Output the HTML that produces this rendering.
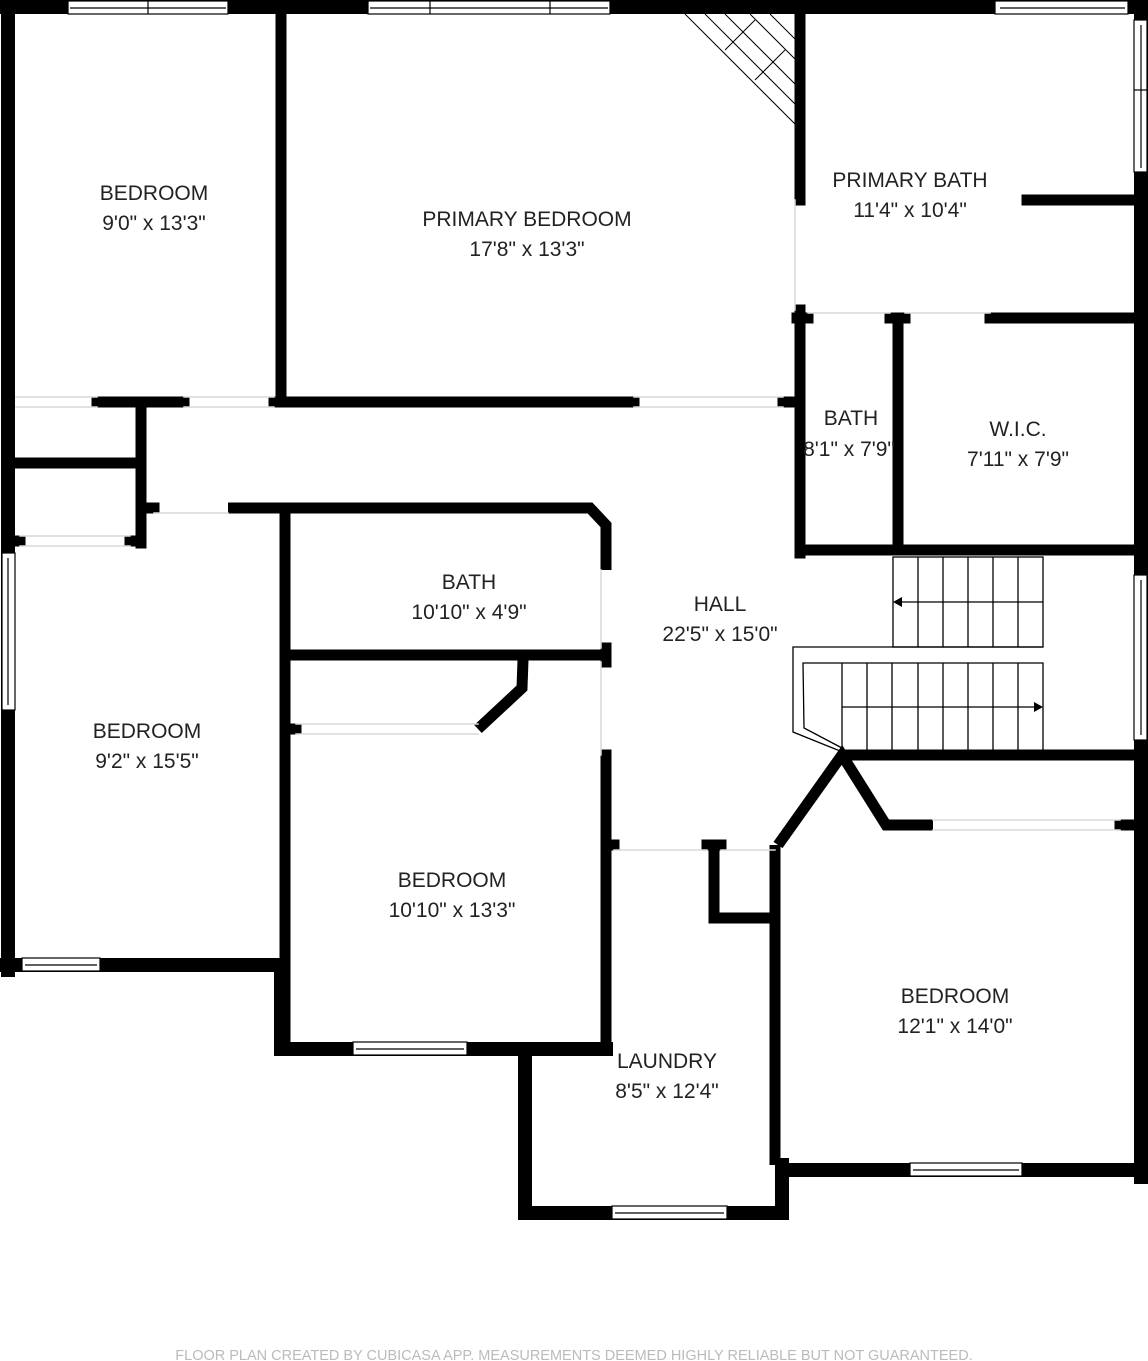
<!DOCTYPE html>
<html><head><style>
html,body{margin:0;padding:0;background:#fff;}
svg{display:block}
text{font-family:"Liberation Sans",sans-serif;fill:#222;text-anchor:middle}
.l{font-size:21px}
</style></head><body>
<svg width="1148" height="1361" viewBox="0 0 1148 1361">
<g stroke="#000" stroke-linecap="square" fill="none">
<g stroke-width="14">
<line x1="2" y1="7" x2="1141" y2="7"/>
<line x1="8" y1="0" x2="8" y2="970"/>
<line x1="1141" y1="0" x2="1141" y2="1177"/>
<line x1="2" y1="965" x2="281" y2="965"/>
<line x1="281" y1="965" x2="281" y2="1049"/>
<line x1="281" y1="1049" x2="606" y2="1049"/>
<line x1="525" y1="1052" x2="525" y2="1213"/>
<line x1="525" y1="1213" x2="782" y2="1213"/>
<line x1="782" y1="1165" x2="782" y2="1213"/>
<line x1="782" y1="1170" x2="1141" y2="1170"/>
</g>
<g stroke-width="11">
<line x1="281" y1="14" x2="281" y2="402"/>
<line x1="97" y1="402" x2="184" y2="402"/>
<line x1="274" y1="402" x2="634" y2="402"/>
<line x1="783" y1="402" x2="798" y2="402"/>
<line x1="141" y1="402" x2="141" y2="543"/>
<line x1="14" y1="463" x2="141" y2="463"/>
<line x1="14" y1="541" x2="20" y2="541"/>
<line x1="130" y1="541" x2="141" y2="541"/>
<line x1="146" y1="508" x2="154" y2="508"/>
<polyline points="228,508 590,508 606,525 606,570" stroke-linecap="butt"/>
<line x1="606" y1="648" x2="606" y2="662"/>
<line x1="606" y1="755" x2="606" y2="1045"/>
<line x1="285" y1="508" x2="285" y2="1045"/>
<line x1="290" y1="655" x2="606" y2="655"/>
<polyline points="523,660 522,688 478,729" stroke-linecap="butt"/>
<line x1="292" y1="729" x2="296" y2="729"/>
<line x1="606" y1="845" x2="614" y2="845"/>
<line x1="707" y1="845" x2="721" y2="845"/>
<polyline points="714,845 714,918 778,918" stroke-linecap="butt"/>
<polyline points="775,845 775,1165" stroke-linecap="butt"/>
<polyline points="778,845 842,755 886,825 933,825" stroke-linecap="butt"/>
<line x1="1120" y1="825" x2="1138" y2="825"/>
<line x1="845" y1="755" x2="1138" y2="755"/>
<line x1="800" y1="14" x2="800" y2="200"/>
<line x1="800" y1="310" x2="800" y2="553"/>
<line x1="797" y1="318" x2="808" y2="318"/>
<line x1="890" y1="318" x2="905" y2="318"/>
<line x1="990" y1="318" x2="1138" y2="318"/>
<line x1="898" y1="318" x2="898" y2="548"/>
<line x1="800" y1="550" x2="1138" y2="550"/>
<line x1="1027" y1="200" x2="1138" y2="200"/>
</g>
<g stroke="#d8d8d8" stroke-width="1.5">
<line x1="16" y1="397" x2="97" y2="397"/><line x1="16" y1="407" x2="97" y2="407"/>
<line x1="184" y1="397" x2="274" y2="397"/><line x1="184" y1="407" x2="274" y2="407"/>
<line x1="634" y1="397" x2="783" y2="397"/><line x1="634" y1="407" x2="783" y2="407"/>
<line x1="20" y1="536" x2="130" y2="536"/><line x1="20" y1="546" x2="130" y2="546"/>
<line x1="154" y1="513" x2="228" y2="513"/>
<line x1="296" y1="724" x2="478" y2="724"/><line x1="296" y1="734" x2="478" y2="734"/>
<line x1="601" y1="570" x2="601" y2="648"/><line x1="601" y1="662" x2="601" y2="755"/>
<line x1="614" y1="850" x2="707" y2="850"/><line x1="721" y1="850" x2="775" y2="850"/>
<line x1="933" y1="820" x2="1120" y2="820"/><line x1="933" y1="830" x2="1120" y2="830"/>
<line x1="795" y1="200" x2="795" y2="310"/>
<line x1="808" y1="313" x2="890" y2="313"/><line x1="905" y1="313" x2="990" y2="313"/>
</g>
</g>
<g fill="#fff" stroke="#000" stroke-width="1.2">
<rect x="68" y="1" width="160" height="13"/><line x1="70" y1="8" x2="226" y2="8"/><line x1="148" y1="1" x2="148" y2="14"/>
<rect x="368" y="1" width="242" height="13"/><line x1="370" y1="8" x2="608" y2="8"/><line x1="430" y1="1" x2="430" y2="14"/><line x1="550" y1="1" x2="550" y2="14"/>
<rect x="995" y="1" width="133" height="13"/><line x1="1000" y1="8" x2="1125" y2="8"/>
<rect x="1134" y="20" width="13" height="152"/><line x1="1141" y1="25" x2="1141" y2="168"/><line x1="1134" y1="90" x2="1147" y2="90"/>
<rect x="1134" y="575" width="13" height="165"/><line x1="1141" y1="580" x2="1141" y2="735"/>
<rect x="2" y="553" width="13" height="157"/><line x1="8" y1="558" x2="8" y2="705"/>
<rect x="22" y="958" width="78" height="13"/><line x1="25" y1="965" x2="97" y2="965"/>
<rect x="353" y="1042" width="114" height="13"/><line x1="356" y1="1049" x2="464" y2="1049"/>
<rect x="612" y="1206" width="115" height="13"/><line x1="615" y1="1213" x2="724" y2="1213"/>
<rect x="910" y="1163" width="112" height="13"/><line x1="913" y1="1170" x2="1019" y2="1170"/>
</g>
<g stroke="#000" stroke-width="1" fill="none">
<line x1="685" y1="14" x2="795" y2="124"/>
<line x1="705" y1="14" x2="795" y2="104"/>
<line x1="725" y1="14" x2="795" y2="84"/>
<line x1="750" y1="14" x2="795" y2="59"/>
<line x1="770" y1="14" x2="795" y2="39"/>
<line x1="725" y1="50" x2="755" y2="20"/>
<line x1="755" y1="80" x2="785" y2="50"/>
</g>
<g stroke="#000" stroke-width="1.3" fill="none">
<rect x="893" y="557" width="150" height="90"/>
<line x1="918" y1="557" x2="918" y2="647"/><line x1="943" y1="557" x2="943" y2="647"/><line x1="968" y1="557" x2="968" y2="647"/><line x1="993" y1="557" x2="993" y2="647"/><line x1="1018" y1="557" x2="1018" y2="647"/>
<line x1="900" y1="602" x2="1043" y2="602"/>
<polyline points="1043,647 793,647 793,732 840,751 1043,751 1043,663 803,663 804,728 842,748"/>
<line x1="842" y1="663" x2="842" y2="751"/><line x1="867" y1="663" x2="867" y2="751"/><line x1="892" y1="663" x2="892" y2="751"/><line x1="918" y1="663" x2="918" y2="751"/><line x1="943" y1="663" x2="943" y2="751"/><line x1="968" y1="663" x2="968" y2="751"/><line x1="993" y1="663" x2="993" y2="751"/><line x1="1018" y1="663" x2="1018" y2="751"/>
<line x1="842" y1="707" x2="1035" y2="707"/>
</g>
<polygon points="893,602 902,597 902,607" fill="#000"/>
<polygon points="1043,707 1034,702 1034,712" fill="#000"/>
<text class="l" x="154" y="200">BEDROOM</text><text class="l" x="154" y="230">9'0" x 13'3"</text>
<text class="l" x="527" y="226">PRIMARY BEDROOM</text><text class="l" x="527" y="256">17'8" x 13'3"</text>
<text class="l" x="910" y="187">PRIMARY BATH</text><text class="l" x="910" y="217">11'4" x 10'4"</text>
<text class="l" x="851" y="425">BATH</text><text class="l" x="849" y="456">8'1" x 7'9"</text>
<text class="l" x="1018" y="436">W.I.C.</text><text class="l" x="1018" y="466">7'11" x 7'9"</text>
<text class="l" x="469" y="589">BATH</text><text class="l" x="469" y="619">10'10" x 4'9"</text>
<text class="l" x="720" y="611">HALL</text><text class="l" x="720" y="641">22'5" x 15'0"</text>
<text class="l" x="147" y="738">BEDROOM</text><text class="l" x="147" y="768">9'2" x 15'5"</text>
<text class="l" x="452" y="887">BEDROOM</text><text class="l" x="452" y="917">10'10" x 13'3"</text>
<text class="l" x="955" y="1003">BEDROOM</text><text class="l" x="955" y="1033">12'1" x 14'0"</text>
<text class="l" x="667" y="1068">LAUNDRY</text><text class="l" x="667" y="1098">8'5" x 12'4"</text>
<text x="574" y="1360" style="font-size:14.5px;fill:#bbb">FLOOR PLAN CREATED BY CUBICASA APP. MEASUREMENTS DEEMED HIGHLY RELIABLE BUT NOT GUARANTEED.</text>
</svg>
</body></html>
